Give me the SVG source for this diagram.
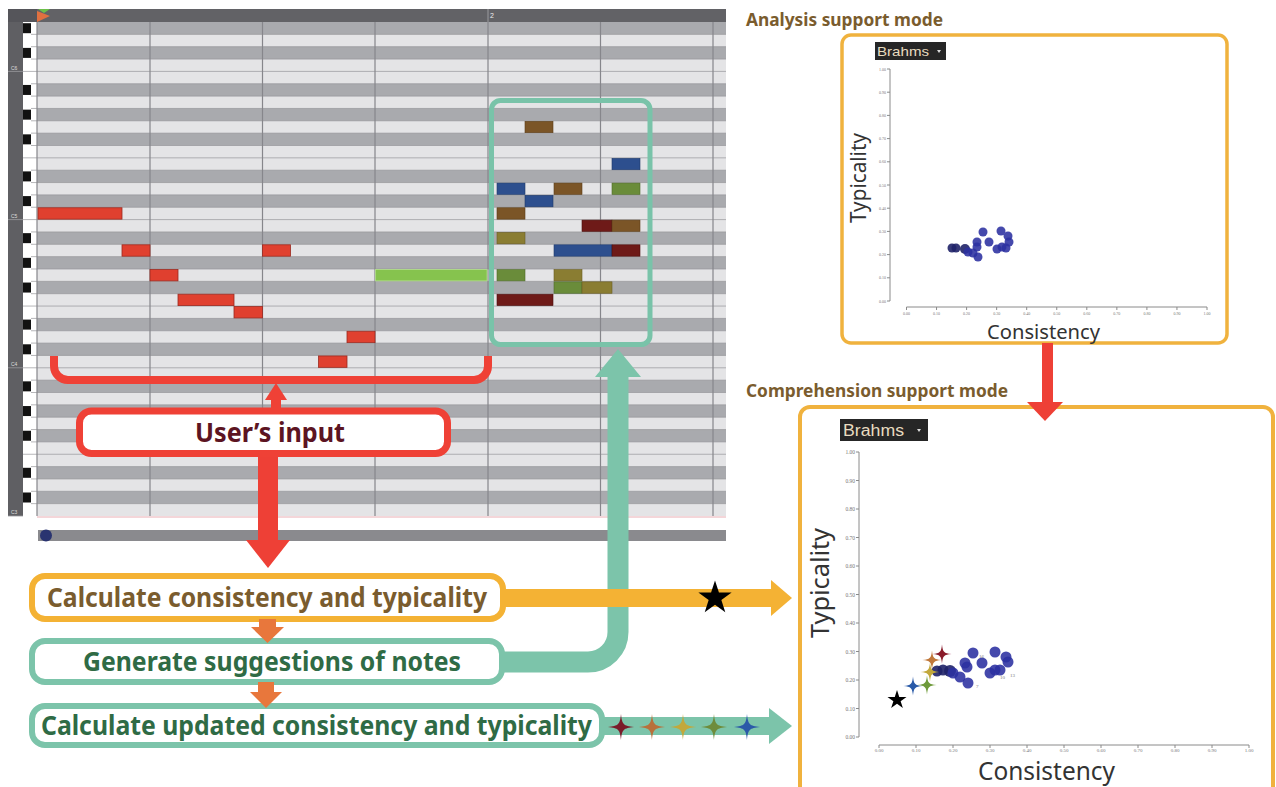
<svg xmlns="http://www.w3.org/2000/svg" xmlns:xlink="http://www.w3.org/1999/xlink" width="1276" height="787" viewBox="0 0 1276 787">
<style>
.bold{font-family:"Noto Sans","Open Sans",sans-serif;font-weight:700}
.lbl{font-family:"Noto Sans","Open Sans",sans-serif;fill:#333}
.tick{font-family:"Liberation Serif",serif;fill:#777}
.ax{stroke:#8a8a8a;stroke-width:1;fill:none}
.dark{fill:#a9aaae}
.bk{fill:#111}
.red{fill:#e0402f;stroke:#9a2a20;stroke-width:0.8}
.brn{fill:#7b5527;stroke:#5a3c18;stroke-width:0.6}
.blu{fill:#2d4f8e;stroke:#1f3a6a;stroke-width:0.6}
.grn{fill:#6a8c3a;stroke:#4e6a28;stroke-width:0.6}
.olv{fill:#8a7d32;stroke:#6a5e22;stroke-width:0.6}
.drd{fill:#6e1a18;stroke:#4a0f0e;stroke-width:0.6}
.dot{fill:#2b30a0;opacity:0.88}
.dotd{fill:#1f2268;opacity:0.9}
.dd{fill:#262626}
.ddt{font-family:"Liberation Sans",Arial,sans-serif;fill:#e8dcc0}
</style>
<defs>
<path id="star5" d="M0,-10 L2.25,-3.09 L9.51,-3.09 L3.63,1.18 L5.88,8.09 L0,3.82 L-5.88,8.09 L-3.63,1.18 L-9.51,-3.09 L-2.25,-3.09 Z"/>
<path id="spark" d="M0,-10 C0.8,-2 2,-0.8 10,0 C2,0.8 0.8,2 0,10 C-0.8,2 -2,0.8 -10,0 C-2,-0.8 -0.8,-2 0,-10 Z"/>
<filter id="soft" x="-20%" y="-20%" width="140%" height="140%"><feGaussianBlur stdDeviation="0.5"/></filter>
</defs>
<rect width="1276" height="787" fill="#fff"/>

<g id="piano-roll">
<rect x="8" y="9" width="718" height="13" fill="#626266"/>
<rect x="8" y="9" width="29" height="13" fill="#55555a"/>
<line x1="488" y1="9" x2="488" y2="22" stroke="#9a9a9e" stroke-width="1"/>
<text x="490" y="18" font-family="Liberation Sans,Arial,sans-serif" font-size="7" fill="#eee">2</text>
<polygon points="38,9 50,9 44,13" fill="#6cbf4a"/>
<polygon points="37,11 50,16 37,22" fill="#e07040"/>
<rect x="37" y="22" width="689" height="494" fill="#e4e4e6"/>
<rect class="dark" x="37" y="22" width="689" height="12.35"/>
<rect class="dark" x="37" y="46.7" width="689" height="12.35"/>
<rect class="dark" x="37" y="83.75" width="689" height="12.35"/>
<rect class="dark" x="37" y="108.45" width="689" height="12.35"/>
<rect class="dark" x="37" y="133.15" width="689" height="12.35"/>
<rect class="dark" x="37" y="170.2" width="689" height="12.35"/>
<rect class="dark" x="37" y="194.9" width="689" height="12.35"/>
<rect class="dark" x="37" y="231.95" width="689" height="12.35"/>
<rect class="dark" x="37" y="256.65" width="689" height="12.35"/>
<rect class="dark" x="37" y="281.35" width="689" height="12.35"/>
<rect class="dark" x="37" y="318.4" width="689" height="12.35"/>
<rect class="dark" x="37" y="343.1" width="689" height="12.35"/>
<rect class="dark" x="37" y="380.15" width="689" height="12.35"/>
<rect class="dark" x="37" y="404.85" width="689" height="12.35"/>
<rect class="dark" x="37" y="429.55" width="689" height="12.35"/>
<rect class="dark" x="37" y="466.6" width="689" height="12.35"/>
<rect class="dark" x="37" y="491.3" width="689" height="12.35"/>
<rect x="8" y="22" width="15" height="494" fill="#5f5f63"/>
<rect x="23" y="22" width="14" height="494" fill="#fff"/>
<path stroke="#97979b" stroke-width="0.7" fill="none" d="M31 34.35H726M31 46.7H726M31 59.05H726M23 71.4H726M31 83.75H726M31 96.1H726M31 108.45H726M31 120.8H726M31 133.15H726M31 145.5H726M23 157.85H726M31 170.2H726M31 182.55H726M31 194.9H726M31 207.25H726M23 219.6H726M31 231.95H726M31 244.3H726M31 256.65H726M31 269H726M31 281.35H726M31 293.7H726M23 306.05H726M31 318.4H726M31 330.75H726M31 343.1H726M31 355.45H726M23 367.8H726M31 380.15H726M31 392.5H726M31 404.85H726M31 417.2H726M31 429.55H726M23 454.25H726M31 441.9H726M31 466.6H726M31 478.95H726M31 491.3H726M31 503.65H726"/>
<rect class="bk" x="23" y="23.2" width="8" height="10"/>
<rect class="bk" x="23" y="47.9" width="8" height="10"/>
<rect class="bk" x="23" y="84.95" width="8" height="10"/>
<rect class="bk" x="23" y="109.65" width="8" height="10"/>
<rect class="bk" x="23" y="134.35" width="8" height="10"/>
<rect class="bk" x="23" y="171.4" width="8" height="10"/>
<rect class="bk" x="23" y="196.1" width="8" height="10"/>
<rect class="bk" x="23" y="233.15" width="8" height="10"/>
<rect class="bk" x="23" y="257.85" width="8" height="10"/>
<rect class="bk" x="23" y="282.55" width="8" height="10"/>
<rect class="bk" x="23" y="319.6" width="8" height="10"/>
<rect class="bk" x="23" y="344.3" width="8" height="10"/>
<rect class="bk" x="23" y="381.35" width="8" height="10"/>
<rect class="bk" x="23" y="406.05" width="8" height="10"/>
<rect class="bk" x="23" y="430.75" width="8" height="10"/>
<rect class="bk" x="23" y="467.8" width="8" height="10"/>
<rect class="bk" x="23" y="492.5" width="8" height="10"/>
<path stroke="#9a9a9e" stroke-width="0.8" d="M8 71.4H23M8 219.6H23M8 367.8H23M8 516H23"/>
<g font-family="Liberation Sans,Arial,sans-serif" font-size="5" fill="#ddd">
<text x="11" y="70">C6</text><text x="11" y="218">C5</text><text x="11" y="366">C4</text><text x="11" y="514">C3</text>
</g>
<path stroke="#86868b" stroke-width="1.2" d="M37 22V516M150 22V516M262.5 22V516M375 22V516M488 22V516M600.5 22V516M713 22V516"/>
<line x1="37" y1="517" x2="726" y2="517" stroke="#f0c8cc" stroke-width="1.5"/>
<rect x="38" y="530" width="688" height="11" fill="#8a8a8e"/>
<circle cx="46" cy="535.5" r="6" fill="#2a3470"/>
<rect class="red" x="38" y="207.75" width="84" height="11.4"/>
<rect class="red" x="122" y="244.8" width="28" height="11.4"/>
<rect class="red" x="262.5" y="244.8" width="28" height="11.4"/>
<rect class="red" x="150" y="269.5" width="28" height="11.4"/>
<rect class="red" x="178" y="294.2" width="56" height="11.4"/>
<rect class="red" x="234" y="306.55" width="28.5" height="11.4"/>
<rect class="red" x="347" y="331.25" width="28" height="11.4"/>
<rect class="red" x="318.5" y="355.95" width="28.5" height="11.4"/>
<rect x="375.5" y="269.5" width="111.5" height="11.4" fill="#86c34e" stroke="#b0dc88" stroke-width="0.8"/>
<rect class="brn" x="525" y="121.3" width="28" height="11.4"/>
<rect class="blu" x="612" y="158.35" width="28" height="11.4"/>
<rect class="blu" x="497" y="183.05" width="28" height="11.4"/>
<rect class="brn" x="554" y="183.05" width="28" height="11.4"/>
<rect class="grn" x="612" y="183.05" width="28" height="11.4"/>
<rect class="blu" x="525" y="195.4" width="28" height="11.4"/>
<rect class="brn" x="497" y="207.75" width="28" height="11.4"/>
<rect class="drd" x="582" y="220.1" width="30" height="11.4"/>
<rect class="brn" x="612" y="220.1" width="28" height="11.4"/>
<rect class="olv" x="497" y="232.45" width="28" height="11.4"/>
<rect class="blu" x="554" y="244.8" width="58" height="11.4"/>
<rect class="drd" x="612" y="244.8" width="28" height="11.4"/>
<rect class="grn" x="497" y="269.5" width="28" height="11.4"/>
<rect class="olv" x="554" y="269.5" width="28" height="11.4"/>
<rect class="grn" x="554" y="281.85" width="28" height="11.4"/>
<rect class="olv" x="582" y="281.85" width="30" height="11.4"/>
<rect class="drd" x="497" y="294.2" width="56" height="11.4"/>
</g>

<g id="suggestion-box">
<rect x="491.5" y="100.5" width="158.5" height="244" rx="9" fill="none" stroke="#79c3a9" stroke-width="5"/>
</g>

<g id="input-bracket">
<path d="M54 356V366A14 14 0 0 0 68 380H474A14 14 0 0 0 488 366V356" fill="none" stroke="#ef4136" stroke-width="8"/>
</g>

<g id="user-input">
<rect x="79.5" y="411" width="368" height="42.5" rx="12" fill="#fff" stroke="#ef4136" stroke-width="7"/>
<text class="bold" x="195" y="442" font-size="27" fill="#5c1422" textLength="150" lengthAdjust="spacingAndGlyphs">User’s input</text>
</g>

<g id="calc">
<rect x="32" y="576" width="471" height="43" rx="13" fill="#fff" stroke="#f4b234" stroke-width="6"/>
<text class="bold" x="47" y="607" font-size="26" fill="#7a5c2e" textLength="440" lengthAdjust="spacingAndGlyphs">Calculate consistency and typicality</text>
</g>

<g id="generate">
<rect x="32" y="641" width="470" height="41" rx="13" fill="#fff" stroke="#7cc4aa" stroke-width="6"/>
<text class="bold" x="83" y="671" font-size="26" fill="#2f6b45" textLength="378" lengthAdjust="spacingAndGlyphs">Generate suggestions of notes</text>
</g>

<g id="calc-updated">
<rect x="32" y="706" width="570" height="39" rx="13" fill="#fff" stroke="#7cc4aa" stroke-width="6"/>
<text class="bold" x="41" y="735" font-size="26" fill="#2f6b45" textLength="551" lengthAdjust="spacingAndGlyphs">Calculate updated consistency and typicality</text>
</g>

<g id="analysis-chart">
<text class="bold" x="746" y="26" font-size="17.5" fill="#7a5c2e" textLength="197" lengthAdjust="spacingAndGlyphs">Analysis support mode</text>
<rect x="842" y="35" width="385" height="308" rx="9" fill="#fff" stroke="#f0b23e" stroke-width="3.5"/>
<rect class="dd" x="875" y="42" width="71" height="18"/>
<text class="ddt" x="877" y="56" font-size="13" textLength="52" lengthAdjust="spacingAndGlyphs">Brahms</text>
<polygon points="937,50 941,50 939,53" fill="#ddd"/>
<path class="ax" d="M890 69V301M906.5 307H1207M887 69H890M887 92.2H890M887 115.4H890M887 138.6H890M887 161.8H890M887 185H890M887 208.2H890M887 231.4H890M887 254.6H890M887 277.8H890M887 301H890M906.5 307V310M936.55 307V310M966.6 307V310M996.65 307V310M1026.7 307V310M1056.75 307V310M1086.8 307V310M1116.85 307V310M1146.9 307V310M1176.95 307V310M1207 307V310"/>
<g class="tick" font-size="4" text-anchor="end">
<text x="886" y="70.5">1.00</text><text x="886" y="93.7">0.90</text><text x="886" y="116.9">0.80</text><text x="886" y="140.1">0.70</text><text x="886" y="163.3">0.60</text><text x="886" y="186.5">0.50</text><text x="886" y="209.7">0.40</text><text x="886" y="232.9">0.30</text><text x="886" y="256.1">0.20</text><text x="886" y="279.3">0.10</text><text x="886" y="302.5">0.00</text>
</g>
<g class="tick" font-size="4" text-anchor="middle">
<text x="906.5" y="314.5">0.00</text><text x="936.55" y="314.5">0.10</text><text x="966.6" y="314.5">0.20</text><text x="996.65" y="314.5">0.30</text><text x="1026.7" y="314.5">0.40</text><text x="1056.75" y="314.5">0.50</text><text x="1086.8" y="314.5">0.60</text><text x="1116.85" y="314.5">0.70</text><text x="1146.9" y="314.5">0.80</text><text x="1176.95" y="314.5">0.90</text><text x="1207" y="314.5">1.00</text>
</g>
<text class="lbl" transform="translate(866,178) rotate(-90)" text-anchor="middle" font-size="21" textLength="90" lengthAdjust="spacingAndGlyphs">Typicality</text>
<text class="lbl" x="987" y="338.5" font-size="20.5" textLength="113" lengthAdjust="spacingAndGlyphs">Consistency</text>
<circle class="dotd" cx="952" cy="248" r="4.5"/>
<circle class="dotd" cx="956" cy="248" r="4.5"/>
<circle class="dotd" cx="965" cy="249" r="5"/>
<circle class="dot" cx="968" cy="252" r="4.5"/>
<circle class="dot" cx="973" cy="253" r="4.5"/>
<circle class="dot" cx="978" cy="257" r="4.5"/>
<circle class="dot" cx="977" cy="242" r="4.5"/>
<circle class="dot" cx="977" cy="247" r="4.5"/>
<circle class="dot" cx="983" cy="232" r="4.5"/>
<circle class="dot" cx="989" cy="242" r="4.5"/>
<circle class="dot" cx="997" cy="249" r="4.5"/>
<circle class="dot" cx="1001" cy="231" r="4.5"/>
<circle class="dot" cx="1002" cy="247" r="4.5"/>
<circle class="dot" cx="1008" cy="236" r="4.5"/>
<circle class="dot" cx="1009" cy="242" r="4.5"/>
<circle class="dot" cx="1006" cy="248" r="4.5"/>
</g>

<g id="comprehension-chart">
<text class="bold" x="746" y="397" font-size="18" fill="#7a5c2e" textLength="262" lengthAdjust="spacingAndGlyphs">Comprehension support mode</text>
<rect x="800" y="407" width="473" height="390" rx="10" fill="#fff" stroke="#f0b23e" stroke-width="4"/>
<rect class="dd" x="840" y="419" width="88" height="22"/>
<text class="ddt" x="843" y="436" font-size="16" textLength="61" lengthAdjust="spacingAndGlyphs">Brahms</text>
<polygon points="917,429 921,429 919,432" fill="#ddd"/>
<path class="ax" d="M859 452V737M879 745H1249M856 452H859M856 480.5H859M856 509H859M856 537.5H859M856 566H859M856 594.5H859M856 623H859M856 651.5H859M856 680H859M856 708.5H859M856 737H859M879 745V748M916 745V748M953 745V748M990 745V748M1027 745V748M1064 745V748M1101 745V748M1138 745V748M1175 745V748M1212 745V748M1249 745V748"/>
<g class="tick" font-size="5.5" text-anchor="end">
<text x="855" y="454">1.00</text><text x="855" y="482.5">0.90</text><text x="855" y="511">0.80</text><text x="855" y="539.5">0.70</text><text x="855" y="568">0.60</text><text x="855" y="596.5">0.50</text><text x="855" y="625">0.40</text><text x="855" y="653.5">0.30</text><text x="855" y="682">0.20</text><text x="855" y="710.5">0.10</text><text x="855" y="739">0.00</text>
</g>
<g class="tick" font-size="5" text-anchor="middle">
<text x="879" y="751.5">0.00</text><text x="916" y="751.5">0.10</text><text x="953" y="751.5">0.20</text><text x="990" y="751.5">0.30</text><text x="1027" y="751.5">0.40</text><text x="1064" y="751.5">0.50</text><text x="1101" y="751.5">0.60</text><text x="1138" y="751.5">0.70</text><text x="1175" y="751.5">0.80</text><text x="1212" y="751.5">0.90</text><text x="1249" y="751.5">1.00</text>
</g>
<text class="lbl" transform="translate(829,583) rotate(-90)" text-anchor="middle" font-size="26" textLength="110" lengthAdjust="spacingAndGlyphs">Typicality</text>
<text class="lbl" x="978" y="779.5" font-size="25" textLength="137" lengthAdjust="spacingAndGlyphs">Consistency</text>
<circle class="dotd" cx="937" cy="671" r="5.5"/>
<circle class="dotd" cx="943" cy="670" r="5.5"/>
<circle class="dotd" cx="950" cy="671" r="6"/>
<circle class="dot" cx="953" cy="673" r="5.5"/>
<circle class="dot" cx="960" cy="677" r="5.5"/>
<circle class="dot" cx="968" cy="683" r="5.5"/>
<circle class="dot" cx="965" cy="663" r="5.5"/>
<circle class="dot" cx="967" cy="667" r="5.5"/>
<circle class="dot" cx="973" cy="653" r="5.5"/>
<circle class="dot" cx="982" cy="663" r="5.5"/>
<circle class="dot" cx="990" cy="673" r="5.5"/>
<circle class="dot" cx="995" cy="652" r="5.5"/>
<circle class="dot" cx="995" cy="670" r="5.5"/>
<circle class="dot" cx="1000" cy="670" r="5.5"/>
<circle class="dot" cx="1006" cy="657" r="5.5"/>
<circle class="dot" cx="1008" cy="662" r="5.5"/>
<g class="tick" font-size="5">
<text x="1010" y="677">13</text><text x="976" y="688">7</text><text x="979" y="658">16</text><text x="1000" y="679">10</text>
</g>
<use href="#star5" transform="translate(897,700)" fill="#000"/>
<g filter="url(#soft)">
<use href="#spark" transform="translate(913,686) scale(0.95)" fill="#2a5aa8"/>
<use href="#spark" transform="translate(927,685) scale(0.95)" fill="#6e9a3a"/>
<use href="#spark" transform="translate(930,672) scale(0.95)" fill="#c2a83a"/>
<use href="#spark" transform="translate(932,660) scale(0.95)" fill="#c0783a"/>
<use href="#spark" transform="translate(942,654) scale(0.95)" fill="#8a1e2c"/>
</g>
</g>

<g id="connectors">
<rect x="271" y="396" width="10" height="15" fill="#ef4136"/>
<polygon points="265,400 287,400 276,383" fill="#ef4136"/>
<rect x="258" y="457" width="20" height="85" fill="#ee4036"/>
<polygon points="246,540 290,540 268,568" fill="#ee4036"/>
<rect x="259" y="619" width="17" height="9" fill="#e8773c"/>
<polygon points="251,627 284,627 267.5,643" fill="#e8773c"/>
<rect x="258" y="682" width="16" height="11" fill="#e8773c"/>
<polygon points="250,692 282,692 266,708" fill="#e8773c"/>
<path d="M503 662H588A30 30 0 0 0 618 632V375" fill="none" stroke="#7cc4aa" stroke-width="21"/>
<polygon points="595,377 641,377 618,349" fill="#7cc4aa"/>
<rect x="504" y="589" width="268" height="18" fill="#f4b234"/>
<polygon points="771,580 771,616 792,598" fill="#f4b234"/>
<use href="#star5" transform="translate(715,598) scale(1.75)" fill="#000"/>
<rect x="603" y="717" width="167" height="18" fill="#7cc4aa"/>
<polygon points="769,708 769,744 792,726" fill="#7cc4aa"/>
<g filter="url(#soft)">
<use href="#spark" transform="translate(621,727) scale(1.3)" fill="#7a1e2c"/>
<use href="#spark" transform="translate(652,727) scale(1.3)" fill="#b8703a"/>
<use href="#spark" transform="translate(683,727) scale(1.3)" fill="#c2a83a"/>
<use href="#spark" transform="translate(714,727) scale(1.3)" fill="#6e8c3a"/>
<use href="#spark" transform="translate(747,727) scale(1.3)" fill="#2a5aa8"/>
</g>
<rect x="1042" y="343" width="11" height="60" fill="#ee4036"/>
<polygon points="1027,402 1063,402 1045,421" fill="#ee4036"/>
</g>
</svg>
